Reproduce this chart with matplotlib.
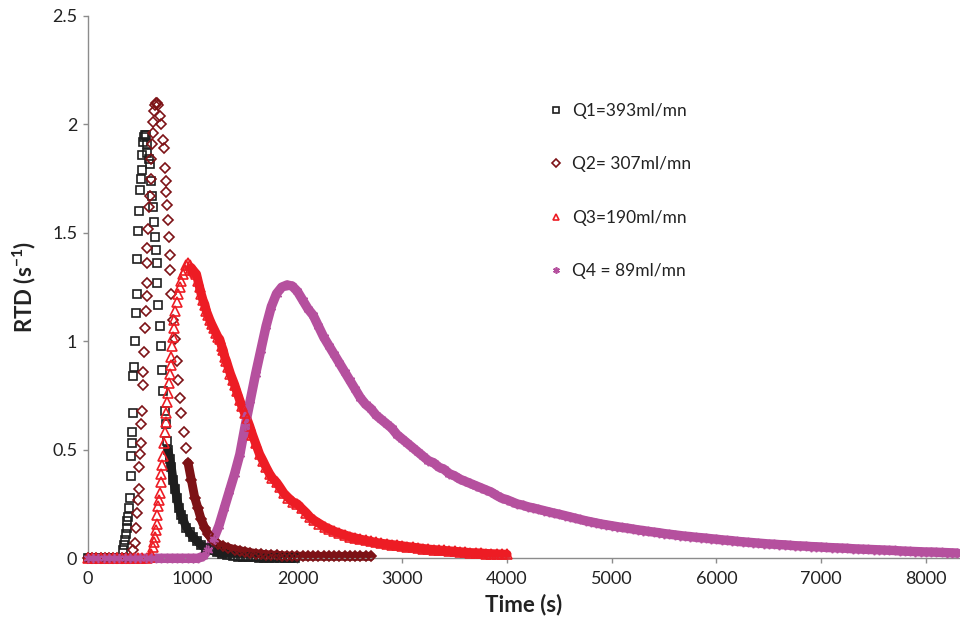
import matplotlib.pyplot as plt
import numpy as np
from matplotlib.ticker import FuncFormatter, MultipleLocator

plt.rcParams["font.family"] = ["Lato", "DejaVu Sans"]
plt.rcParams["mathtext.default"] = "regular"

# Residence time distributions for four flow rates (time in s, RTD in 1/s)
Q1_TIME = [0, 40, 80, 120, 160, 200, 240, 280, 320,
           333, 342, 352, 360, 369, 375, 381, 390, 400, 407,
           410, 416, 419, 426, 429, 438, 448, 457, 464, 467,
           476, 486, 495, 503, 511, 518, 524, 533, 543, 552,
           559, 568, 580, 590, 597, 607, 619, 629, 638, 648,
           654, 657, 670, 686, 695, 705, 717, 733, 743, 752,
           765, 780, 797, 813, 830, 848, 870, 890, 908, 940,
           970, 1003, 1040, 1080, 1130, 1180, 1230, 1280, 1330, 1380,
           1430, 1480, 1530, 1580, 1630, 1680, 1730, 1780, 1830, 1880,
           1930, 1980]
Q1_RTD = [0, 0, 0, 0, 0, 0, 0, 0, 0,
          0.037, 0.06, 0.083, 0.11, 0.14, 0.17, 0.19, 0.23, 0.28, 0.38,
          0.47, 0.53, 0.58, 0.67, 0.84, 0.88, 1.00, 1.13, 1.22, 1.38,
          1.51, 1.60, 1.70, 1.75, 1.79, 1.86, 1.92, 1.94, 1.95, 1.95,
          1.91, 1.87, 1.84, 1.82, 1.74, 1.67, 1.62, 1.55, 1.48, 1.42,
          1.36, 1.27, 1.17, 1.07, 0.98, 0.87, 0.77, 0.68, 0.62, 0.54,
          0.50, 0.46, 0.42, 0.36, 0.32, 0.28, 0.23, 0.20, 0.18, 0.14,
          0.12, 0.097, 0.08, 0.06, 0.046, 0.036, 0.028, 0.02, 0.014, 0.011,
          0.008, 0.006, 0.005, 0.004, 0.003, 0.002, 0.002, 0.001, 0.001, 0.001,
          0.0, 0.0]

Q2_TIME = [0, 40, 80, 120, 160, 200, 240, 280, 320, 360, 400,
           432, 451, 463, 470, 476, 483, 489, 495, 502, 508,
           514, 521, 527, 533, 543, 552, 559, 562, 565, 568,
           574, 584, 590, 597, 600, 607, 616, 622, 629, 640,
           650, 660, 670, 686, 701, 717, 724, 733, 743, 749,
           755, 765, 774, 781, 787, 797, 813, 829, 845, 860,
           876, 892, 914, 933, 955, 987, 1019, 1050, 1080, 1114,
           1150, 1190, 1240, 1290, 1340, 1400, 1450, 1500, 1550, 1600,
           1650, 1700, 1750, 1800, 1850, 1900, 1950, 2000, 2050, 2100,
           2150, 2200, 2250, 2300, 2350, 2400, 2450, 2500, 2550, 2600,
           2650, 2700]
Q2_RTD = [0, 0, 0, 0, 0, 0, 0, 0, 0, 0, 0,
          0.037, 0.07, 0.14, 0.21, 0.27, 0.32, 0.42, 0.48, 0.53, 0.62,
          0.68, 0.80, 0.86, 0.95, 1.06, 1.14, 1.21, 1.27, 1.36, 1.43,
          1.52, 1.62, 1.67, 1.75, 1.84, 1.91, 1.96, 2.01, 2.06, 2.09,
          2.10, 2.10, 2.09, 2.04, 2.00, 1.93, 1.89, 1.80, 1.74, 1.69,
          1.63, 1.56, 1.48, 1.40, 1.33, 1.22, 1.10, 1.01, 0.91, 0.82,
          0.74, 0.67, 0.58, 0.51, 0.44, 0.36, 0.28, 0.23, 0.18, 0.14,
          0.11, 0.083, 0.065, 0.055, 0.048, 0.040, 0.035, 0.030, 0.026, 0.022,
          0.019, 0.017, 0.015, 0.014, 0.012, 0.011, 0.010, 0.010, 0.009, 0.009,
          0.009, 0.009, 0.009, 0.009, 0.009, 0.009, 0.009, 0.009, 0.009, 0.009,
          0.009, 0.009]

Q3_TIME = [0, 40, 80, 120, 160, 200, 240, 280, 320, 360, 400, 440, 480, 520, 560,
           590, 606, 622, 630, 638, 646, 654, 662, 670, 678,
           686, 694, 701, 709, 717, 725, 733, 741, 749, 757,
           765, 773, 781, 789, 797, 805, 813, 818, 822, 833,
           845, 860, 876, 892, 908, 925, 940, 955, 970, 985,
           1000, 1017, 1035, 1050, 1065, 1080, 1098, 1115, 1130, 1146,
           1162, 1180, 1200, 1220, 1240, 1257, 1275, 1290, 1305, 1321,
           1340, 1360, 1384, 1400, 1420, 1448, 1470, 1495, 1520, 1543,
           1570, 1600, 1638, 1670, 1700, 1733, 1760, 1800, 1829, 1870,
           1910, 1956, 2000, 2040, 2083, 2120, 2160, 2210, 2260, 2305,
           2350, 2400, 2450, 2500, 2550, 2600, 2650, 2700, 2750, 2800,
           2850, 2900, 2950, 3000, 3050, 3100, 3150, 3200, 3250, 3300,
           3350, 3400, 3450, 3500, 3550, 3600, 3650, 3700, 3750, 3800,
           3850, 3900, 3950, 4000]
Q3_RTD = [0, 0, 0, 0, 0, 0, 0, 0, 0, 0, 0, 0, 0, 0, 0,
          0.006, 0.02, 0.05, 0.075, 0.10, 0.13, 0.16, 0.20, 0.24, 0.27,
          0.30, 0.35, 0.39, 0.43, 0.47, 0.53, 0.58, 0.63, 0.67, 0.72,
          0.76, 0.81, 0.85, 0.89, 0.93, 0.98, 1.02, 1.06, 1.10, 1.14,
          1.18, 1.22, 1.25, 1.28, 1.31, 1.33, 1.35, 1.36, 1.35, 1.34,
          1.33, 1.32, 1.31, 1.28, 1.25, 1.22, 1.19, 1.17, 1.14, 1.12,
          1.10, 1.08, 1.06, 1.04, 1.02, 1.01, 0.98, 0.96, 0.93, 0.91,
          0.88, 0.85, 0.82, 0.80, 0.77, 0.73, 0.70, 0.67, 0.64, 0.61,
          0.57, 0.53, 0.48, 0.45, 0.42, 0.39, 0.37, 0.35, 0.33, 0.30,
          0.28, 0.26, 0.25, 0.23, 0.21, 0.19, 0.175, 0.16, 0.145, 0.135,
          0.125, 0.116, 0.108, 0.100, 0.094, 0.088, 0.083, 0.078, 0.073, 0.069,
          0.066, 0.063, 0.060, 0.057, 0.054, 0.051, 0.048, 0.045, 0.042, 0.040,
          0.038, 0.036, 0.034, 0.032, 0.030, 0.028, 0.026, 0.025, 0.024, 0.022,
          0.021, 0.020, 0.019, 0.018]

# Q4 was logged every 50 s
Q4_STEP = 50
Q4_RTD = [0, 0, 0, 0, 0, 0, 0, 0, 0, 0,
          0, 0, 0, 0, 0, 0, 0, 0, 0, 0,
          0, 0, 0.01, 0.04, 0.09, 0.15, 0.23, 0.31, 0.39, 0.48,
          0.61, 0.73, 0.85, 0.96, 1.07, 1.16, 1.22, 1.25, 1.26, 1.255,
          1.23, 1.19, 1.15, 1.12, 1.07, 1.02, 0.98, 0.94, 0.90, 0.86,
          0.82, 0.78, 0.74, 0.71, 0.69, 0.66, 0.64, 0.62, 0.60, 0.57,
          0.55, 0.53, 0.51, 0.49, 0.47, 0.45, 0.44, 0.42, 0.41, 0.39,
          0.38, 0.365, 0.355, 0.345, 0.335, 0.325, 0.315, 0.305, 0.29, 0.277,
          0.27, 0.26, 0.25, 0.245, 0.237, 0.232, 0.226, 0.22, 0.214, 0.208,
          0.203, 0.197, 0.191, 0.185, 0.179, 0.173, 0.168, 0.163, 0.158, 0.154,
          0.150, 0.146, 0.142, 0.139, 0.135, 0.131, 0.128, 0.124, 0.121, 0.118,
          0.114, 0.111, 0.108, 0.105, 0.102, 0.100, 0.097, 0.095, 0.093, 0.090,
          0.088, 0.085, 0.083, 0.081, 0.078, 0.076, 0.074, 0.072, 0.070, 0.068,
          0.066, 0.065, 0.063, 0.062, 0.060, 0.058, 0.057, 0.056, 0.054, 0.053,
          0.052, 0.050, 0.049, 0.048, 0.047, 0.046, 0.044, 0.043, 0.042, 0.041,
          0.040, 0.039, 0.038, 0.037, 0.036, 0.034, 0.033, 0.032, 0.031, 0.030,
          0.029, 0.029, 0.028, 0.027, 0.026, 0.025, 0.024]
Q4_TIME = np.arange(len(Q4_RTD)) * Q4_STEP

LABELS = ["Q1=393ml/mn", "Q2= 307ml/mn", "Q3=190ml/mn", "Q4 = 89ml/mn"]

# marker, size, colour, band width, and the time from which the samples
# crowd into a solid band
STYLES = [
    ("s", 5.8, "#1e1e1e", 6.2, 760),
    ("D", 5.2, "#7d1216", 6.4, 940),
    ("^", 6.6, "#ed1c24", 6.6, 980),
    ((6, 2, 0), 6.8, "#b5509e", 6.8, 0),
]

GRAY = "#8c8c8c"
TEXT = "#222222"

fig = plt.figure(figsize=(9.6, 6.24), dpi=100)
ax = fig.add_axes([88 / 960, 1 - 558.3 / 624, 1 - 88 / 960, (558.3 - 16) / 624])

data = [(Q1_TIME, Q1_RTD), (Q2_TIME, Q2_RTD), (Q3_TIME, Q3_RTD), (Q4_TIME, Q4_RTD)]
for (t, v), label, (mk, ms, col, lw, band_from) in zip(data, LABELS, STYLES):
    t = np.asarray(t, dtype=float)
    v = np.asarray(v, dtype=float)
    dense = t >= band_from
    ax.plot(t[dense], v[dense], "-", color=col, lw=lw, solid_capstyle="round",
            solid_joinstyle="round", clip_on=False, zorder=2)
    ax.plot(t, v, linestyle="none", marker=mk, markersize=ms,
            markerfacecolor="none", markeredgecolor=col, markeredgewidth=1.2,
            label=label, clip_on=False, zorder=3)

ax.set_xlim(0, 8325)
ax.set_ylim(0, 2.5)
ax.set_xticks(np.arange(0, 8001, 1000))
ax.yaxis.set_major_locator(MultipleLocator(0.5))
ax.yaxis.set_major_formatter(FuncFormatter(lambda y, _: f"{y:g}"))

for side in ("top", "right"):
    ax.spines[side].set_visible(False)
for side in ("left", "bottom"):
    ax.spines[side].set_color(GRAY)
    ax.spines[side].set_linewidth(1.0)

ax.tick_params(axis="both", direction="out", length=3.8, width=1.0,
               color=GRAY, labelsize=13, labelcolor=TEXT)
ax.tick_params(axis="x", pad=5)
ax.tick_params(axis="y", pad=4)

ax.set_xlabel("Time (s)", fontsize=16, fontweight="bold", color=TEXT, labelpad=5)
ax.set_ylabel("RTD (s$^{-1}$)", fontsize=16, fontweight="bold", color=TEXT, labelpad=10)

leg = ax.legend(loc="upper left", bbox_to_anchor=(550 / 960, 1 - 103 / 624),
                bbox_transform=fig.transFigure, frameon=False, fontsize=12.5,
                handlelength=0.7, handletextpad=0.55, labelspacing=2.15,
                borderaxespad=0, borderpad=0, markerscale=0.7, numpoints=1)
for txt in leg.get_texts():
    txt.set_color(TEXT)

fig.savefig("out.png", dpi=100)
